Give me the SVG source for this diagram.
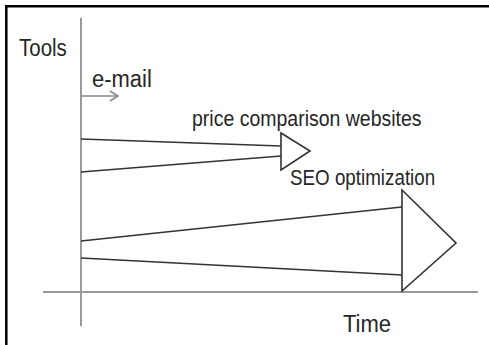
<svg xmlns="http://www.w3.org/2000/svg" width="489" height="345" viewBox="0 0 489 345">
  <style>
    .axis { stroke: #9a9a9a; stroke-width: 2; fill: none; }
    .ln { stroke: #333; stroke-width: 1.6; fill: none; }
    .tri { stroke: #333; stroke-width: 1.6; fill: #fff; stroke-linejoin: miter; }
    .lbl { font-family: "Liberation Sans", Arial, sans-serif; fill: #262626; }
  </style>
  <rect width="489" height="345" fill="#fff"/>
  <g id="frame" stroke="#000" stroke-width="2.5">
    <line x1="6.3" y1="5" x2="6.3" y2="345"/>
    <line x1="5" y1="6.3" x2="489" y2="6.3"/>
  </g>
  <g id="axes">
    <line class="axis" x1="81" y1="18" x2="81" y2="326"/>
    <line class="axis" x1="43" y1="292" x2="478" y2="292"/>
    <text class="lbl" transform="translate(19,56) scale(1,1.2)" font-size="20.5">Tools</text>
    <text class="lbl" transform="translate(343,332) scale(1,1.1)" font-size="22">Time</text>
  </g>
  <g id="connectors">
    <g id="email">
      <line x1="81" y1="96" x2="118" y2="96" stroke="#8a8a8a" stroke-width="1.6"/>
      <polyline points="110,91 118,96 110,101" stroke="#8a8a8a" stroke-width="1.6" fill="none"/>
      <text class="lbl" transform="translate(92,87) scale(1,1.1)" font-size="22">e-mail</text>
    </g>
    <g id="price">
      <line class="ln" x1="81" y1="139" x2="281" y2="146"/>
      <line class="ln" x1="81" y1="172" x2="281" y2="156"/>
      <polygon class="tri" points="281,133 310,151 281,170"/>
      <text class="lbl" transform="translate(192,126) scale(1,1.15)" font-size="19.5">price comparison websites</text>
    </g>
    <g id="seo">
      <line class="ln" x1="81" y1="241" x2="402" y2="207"/>
      <line class="ln" x1="81" y1="258" x2="402" y2="275"/>
      <polygon class="tri" points="402,190 456,243 402,291"/>
      <text class="lbl" transform="translate(290,185) scale(1,1.15)" font-size="18.8">SEO optimization</text>
    </g>
  </g>
</svg>
